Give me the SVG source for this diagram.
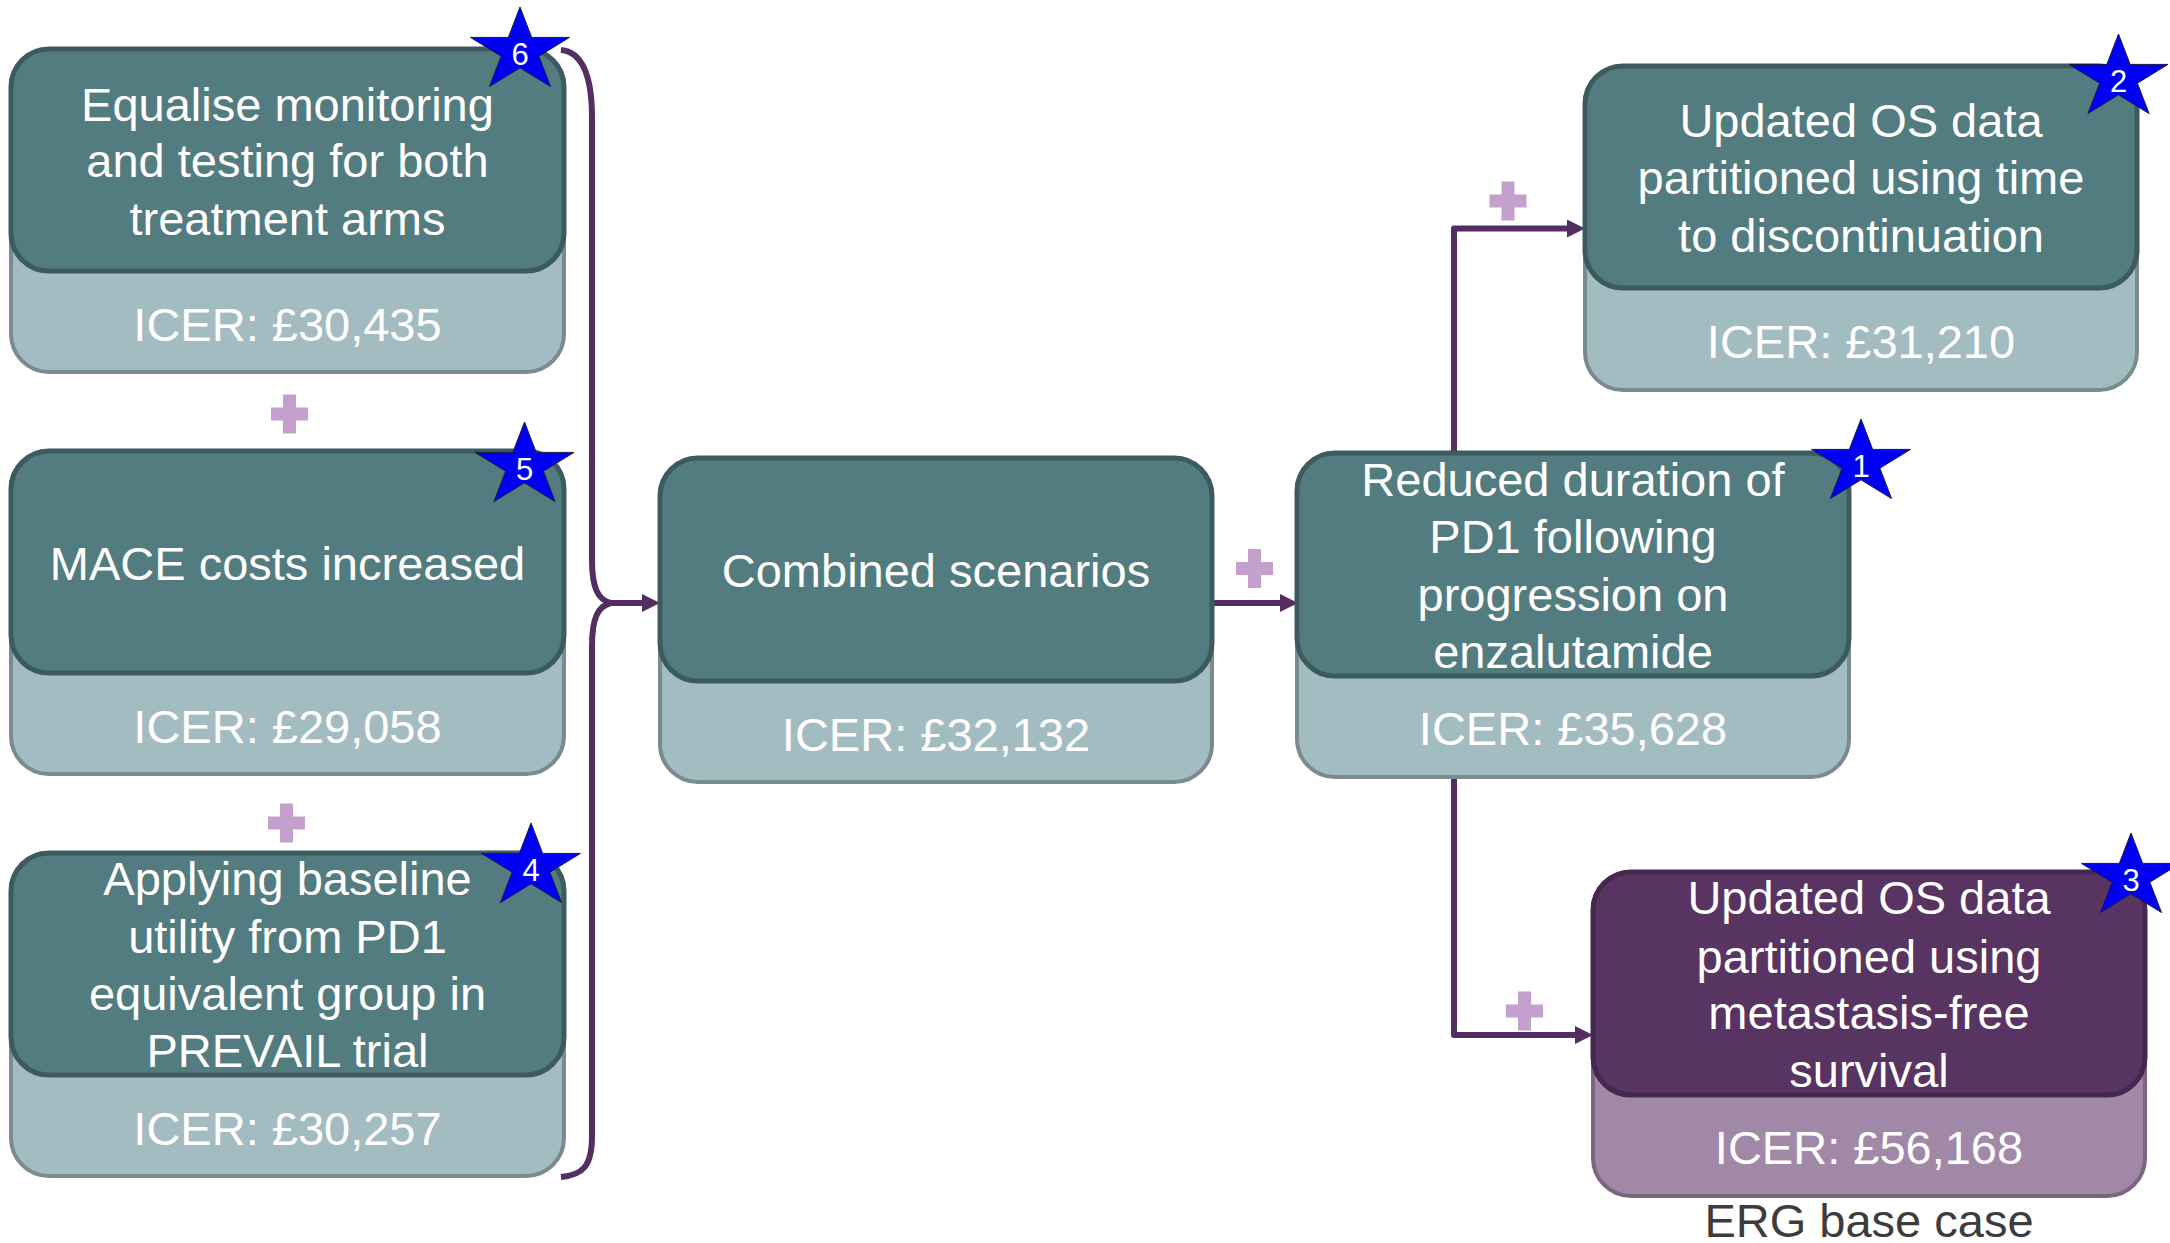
<svg xmlns="http://www.w3.org/2000/svg" xmlns:xlink="http://www.w3.org/1999/xlink" width="2170" height="1243" viewBox="0 0 2170 1243">
  <style>
    .top { fill: #537c80; stroke: #3d5b5e; stroke-width: 5; }
    .base { fill: #a3bcc1; stroke: #7a8b8d; stroke-width: 4; }
    .topP { fill: #573461; stroke: #45284f; stroke-width: 5; }
    .baseP { fill: #a288a7; stroke: #7a667f; stroke-width: 4; }
    .lbl { font-family: "Liberation Sans", Arial, sans-serif; font-size: 47px; fill: #ffffff; text-anchor: middle; }
    .num { font-family: "Liberation Sans", Arial, sans-serif; font-size: 31px; fill: #ffffff; text-anchor: middle; }
    .note { font-family: "Liberation Sans", Arial, sans-serif; font-size: 47px; fill: #3c3c3c; text-anchor: middle; }
    .conn { fill: none; stroke: #522e62; stroke-width: 6; stroke-linejoin: round; }
    .star { fill: #0000f5; stroke: #1a1a40; stroke-width: 1; }
    .plus { fill: #c4a0cc; }
  </style>
  <defs>
    <marker id="arrow" markerUnits="userSpaceOnUse" markerWidth="20" markerHeight="18" refX="8" refY="9" orient="auto">
      <path d="M0,0 L18,9 L0,18 z" fill="#522e62"/>
    </marker>
    <polygon id="star5" points="0,-44 11.67,-13.6 49.46,-13.6 18.89,5.19 30.57,35.6 0,16.81 -30.57,35.6 -18.89,5.19 -49.46,-13.6 -11.67,-13.6"/>
    <path id="plusSign" d="M-6.5,-19.5 H6.5 V-6.5 H18.5 V6.5 H6.5 V19.5 H-6.5 V6.5 H-18.5 V-6.5 H-6.5 Z"/>
  </defs>
  <rect width="2170" height="1243" fill="#ffffff"/>

  <!-- connectors -->
  <g id="connectors">
    <path class="conn" d="M561,50 C583,52 592,78 592,118 L592,560 C592,588 598,600 611,603 C598,606 592,618 592,646 L592,1136 C592,1166 583,1175 561,1177"/>
    <path class="conn" d="M611,603 L650,603" marker-end="url(#arrow)"/>
    <path class="conn" d="M1212,603 L1288,603" marker-end="url(#arrow)"/>
    <path class="conn" d="M1454,453 L1454,228.5 L1575,228.5" marker-end="url(#arrow)"/>
    <path class="conn" d="M1454,777 L1454,1035 L1583,1035" marker-end="url(#arrow)"/>
  </g>

  <!-- plus signs between combined steps -->
  <g id="plus-signs">
    <use xlink:href="#plusSign" class="plus" x="289.5" y="414"/>
    <use xlink:href="#plusSign" class="plus" x="286.5" y="823"/>
    <use xlink:href="#plusSign" class="plus" x="1254.5" y="568.5"/>
    <use xlink:href="#plusSign" class="plus" x="1508" y="201"/>
    <use xlink:href="#plusSign" class="plus" x="1524.5" y="1011"/>
  </g>

  <!-- scenario 6 -->
  <g id="node-equalise">
    <rect class="base" x="11" y="49" width="553" height="323" rx="38"/>
    <rect class="top" x="11" y="49" width="553" height="222" rx="38"/>
    <text class="lbl" x="287.5" y="121">Equalise monitoring</text>
    <text class="lbl" x="287.5" y="177">and testing for both</text>
    <text class="lbl" x="287.5" y="235">treatment arms</text>
    <text class="lbl" x="287.5" y="341">ICER: £30,435</text>
    <use xlink:href="#star5" class="star" x="520" y="51"/>
    <text class="num" x="520" y="65">6</text>
  </g>

  <!-- scenario 5 -->
  <g id="node-mace">
    <rect class="base" x="11" y="451" width="553" height="323" rx="38"/>
    <rect class="top" x="11" y="451" width="553" height="222" rx="38"/>
    <text class="lbl" x="287.5" y="580">MACE costs increased</text>
    <text class="lbl" x="287.5" y="743">ICER: £29,058</text>
    <use xlink:href="#star5" class="star" x="524.5" y="466"/>
    <text class="num" x="524.5" y="480">5</text>
  </g>

  <!-- scenario 4 -->
  <g id="node-utility">
    <rect class="base" x="11" y="853" width="553" height="323" rx="38"/>
    <rect class="top" x="11" y="853" width="553" height="222" rx="38"/>
    <text class="lbl" x="287.5" y="895">Applying baseline</text>
    <text class="lbl" x="287.5" y="953">utility from PD1</text>
    <text class="lbl" x="287.5" y="1010">equivalent group in</text>
    <text class="lbl" x="287.5" y="1067">PREVAIL trial</text>
    <text class="lbl" x="287.5" y="1145">ICER: £30,257</text>
    <use xlink:href="#star5" class="star" x="531" y="867"/>
    <text class="num" x="531" y="881">4</text>
  </g>

  <!-- combined -->
  <g id="node-combined">
    <rect class="base" x="660" y="458" width="552" height="324" rx="38"/>
    <rect class="top" x="660" y="458" width="552" height="223" rx="38"/>
    <text class="lbl" x="936" y="587">Combined scenarios</text>
    <text class="lbl" x="936" y="751">ICER: £32,132</text>
  </g>

  <!-- scenario 1 -->
  <g id="node-pd1">
    <rect class="base" x="1297" y="453" width="552" height="324" rx="38"/>
    <rect class="top" x="1297" y="453" width="552" height="223" rx="38"/>
    <text class="lbl" x="1573" y="496">Reduced duration of</text>
    <text class="lbl" x="1573" y="553">PD1 following</text>
    <text class="lbl" x="1573" y="611">progression on</text>
    <text class="lbl" x="1573" y="668">enzalutamide</text>
    <text class="lbl" x="1573" y="745">ICER: £35,628</text>
    <use xlink:href="#star5" class="star" x="1861" y="463"/>
    <text class="num" x="1861" y="477">1</text>
  </g>

  <!-- scenario 2 -->
  <g id="node-ttd">
    <rect class="base" x="1585" y="66" width="552" height="324" rx="38"/>
    <rect class="top" x="1585" y="66" width="552" height="222" rx="38"/>
    <text class="lbl" x="1861" y="137">Updated OS data</text>
    <text class="lbl" x="1861" y="194">partitioned using time</text>
    <text class="lbl" x="1861" y="252">to discontinuation</text>
    <text class="lbl" x="1861" y="358">ICER: £31,210</text>
    <use xlink:href="#star5" class="star" x="2118.5" y="78"/>
    <text class="num" x="2118.5" y="92">2</text>
  </g>

  <!-- scenario 3 / ERG base case -->
  <g id="node-mfs">
    <rect class="baseP" x="1593" y="872" width="552" height="324" rx="38"/>
    <rect class="topP" x="1593" y="872" width="552" height="223" rx="38"/>
    <text class="lbl" x="1869" y="914">Updated OS data</text>
    <text class="lbl" x="1869" y="973">partitioned using</text>
    <text class="lbl" x="1869" y="1029">metastasis-free</text>
    <text class="lbl" x="1869" y="1087">survival</text>
    <text class="lbl" x="1869" y="1164">ICER: £56,168</text>
    <use xlink:href="#star5" class="star" x="2131" y="877"/>
    <text class="num" x="2131" y="891">3</text>
    <text class="note" x="1869" y="1237">ERG base case</text>
  </g>
</svg>
